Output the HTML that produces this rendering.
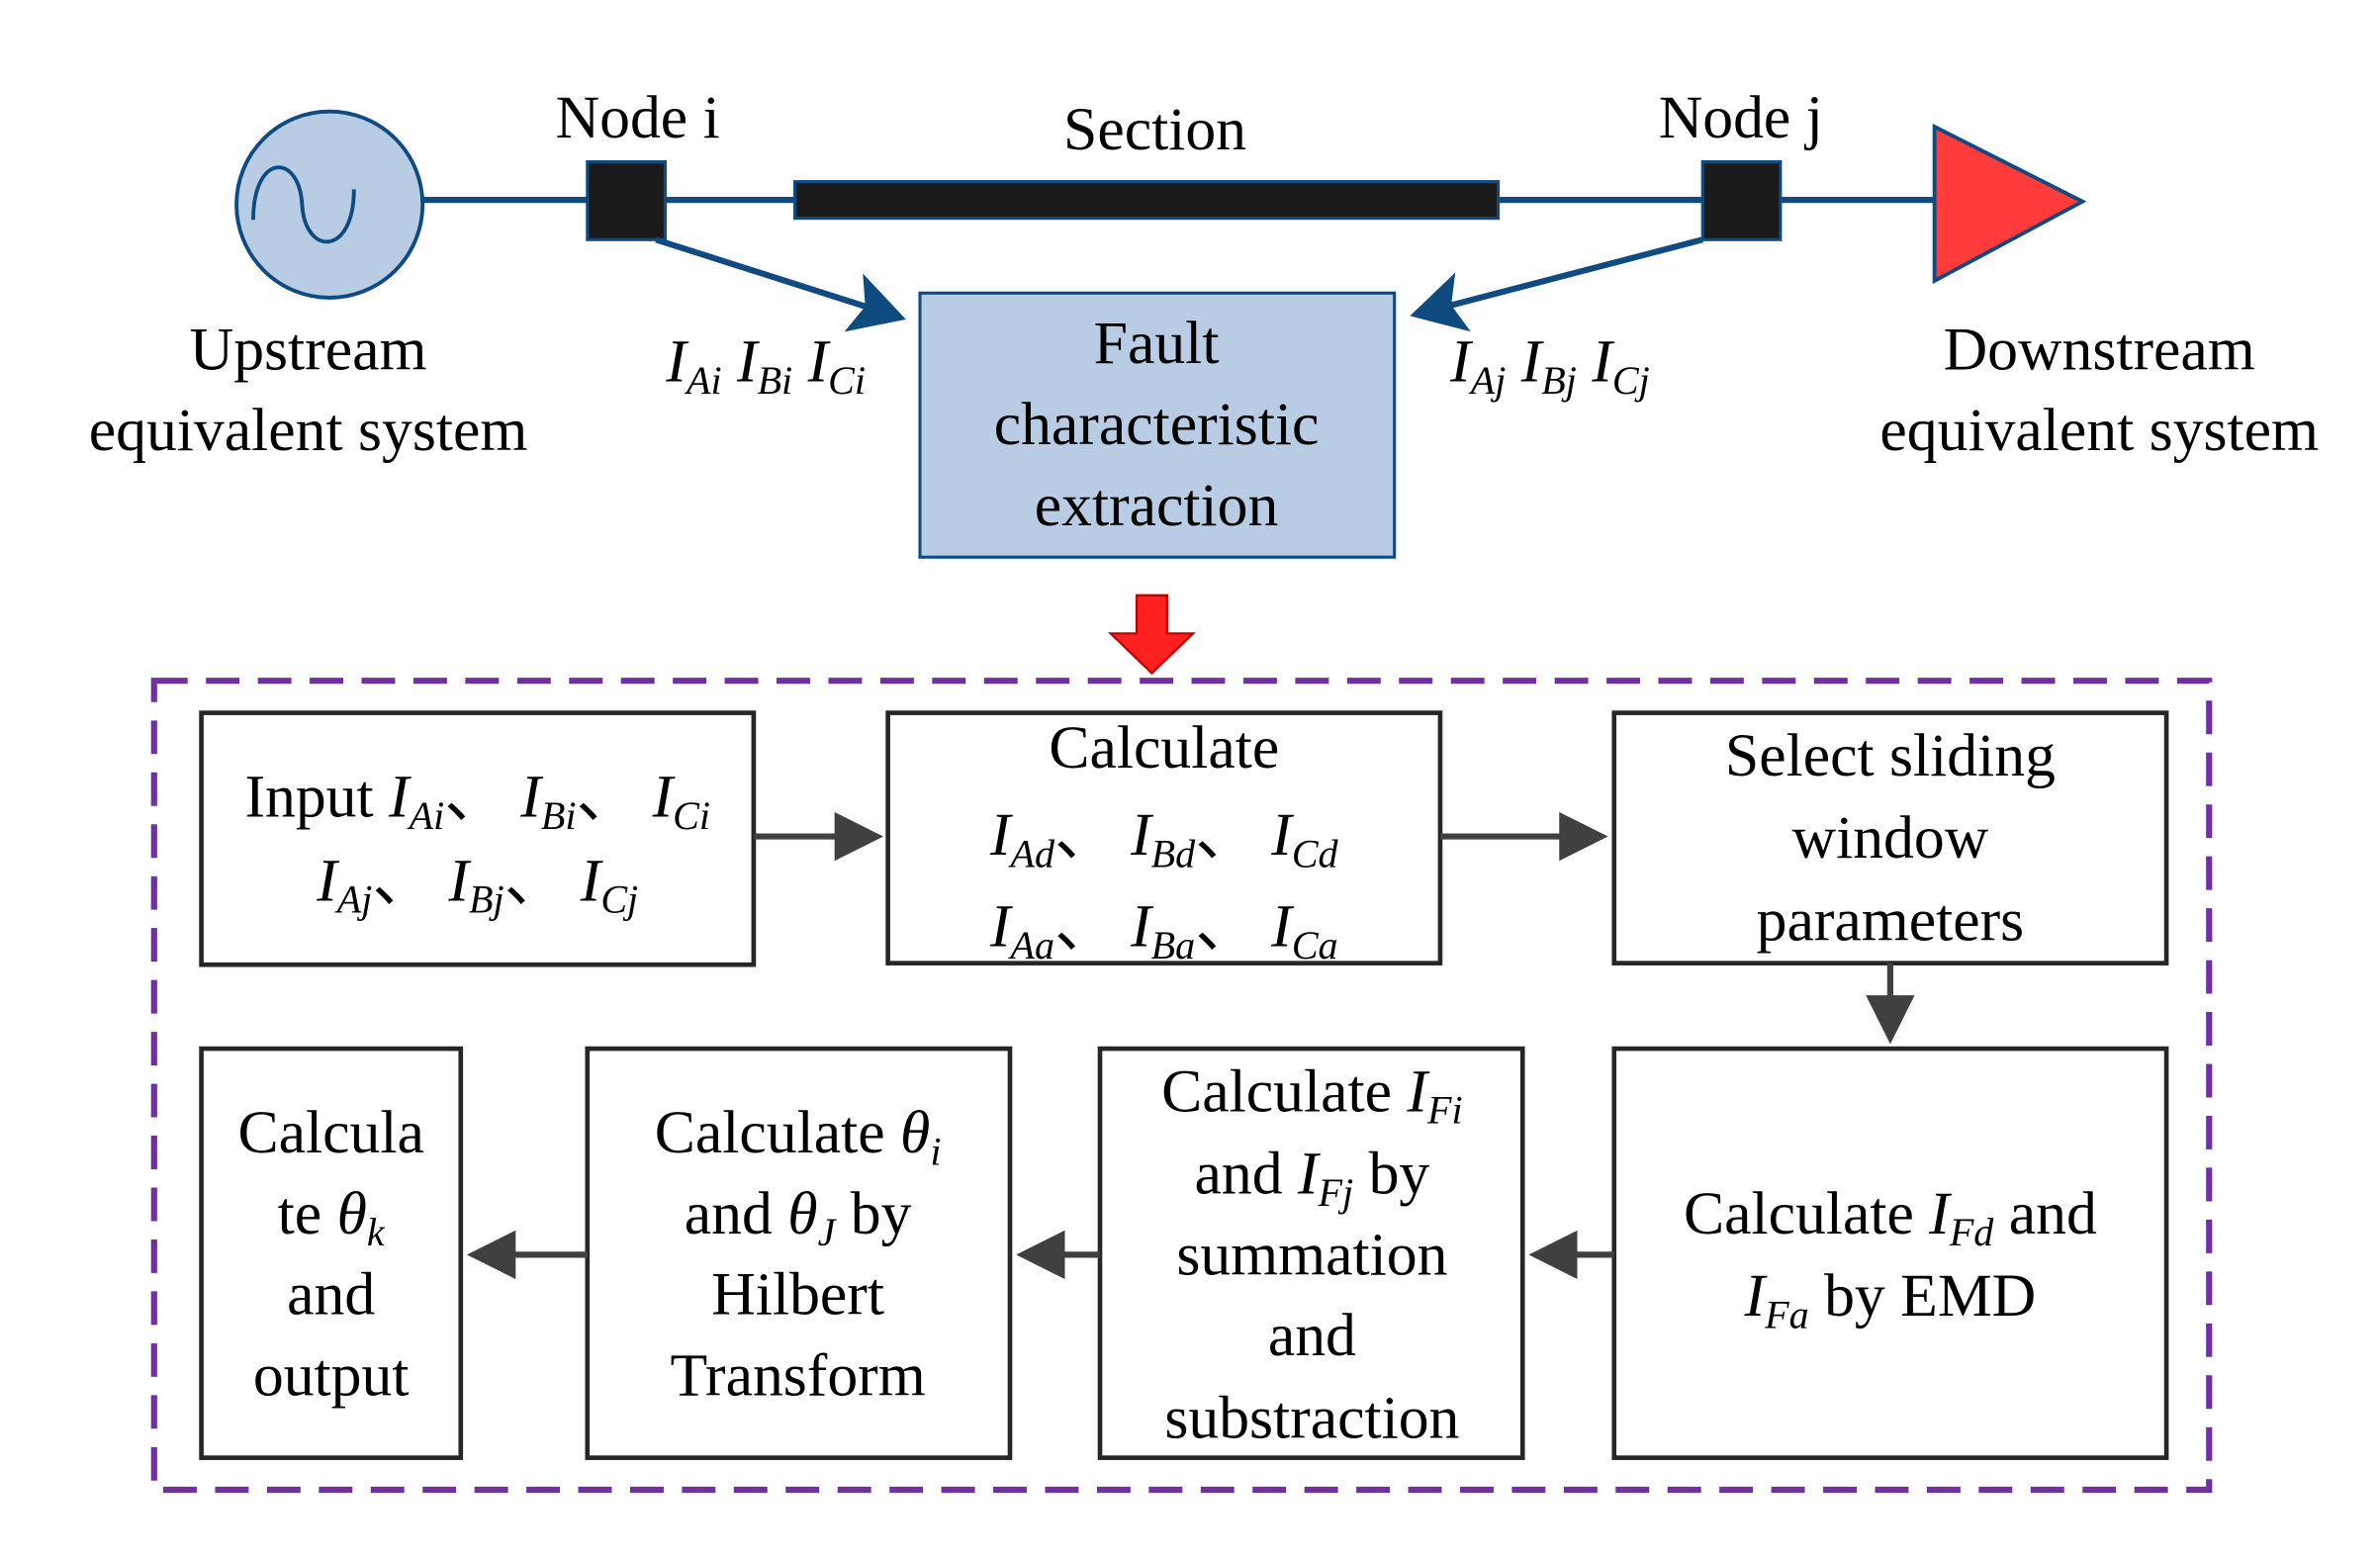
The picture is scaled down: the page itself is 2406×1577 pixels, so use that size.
<!DOCTYPE html>
<html><head><meta charset="utf-8"><style>html,body{margin:0;padding:0;background:#fff}svg{display:block}text{font-family:"Liberation Serif","Times New Roman",serif}</style></head><body>
<svg width="2406" height="1577" viewBox="0 0 1560 1022" preserveAspectRatio="none" xmlns="http://www.w3.org/2000/svg" font-family="'Liberation Serif', serif" font-size="40" fill="#000">
<defs>
<marker id="ab" markerWidth="10" markerHeight="10" refX="8" refY="5" orient="auto" markerUnits="strokeWidth"><path d="M0,0 L9,5 L0,10 L2,5 Z" fill="#0f4a80"/></marker>
<marker id="ag" markerWidth="8" markerHeight="8" refX="7" refY="4" orient="auto" markerUnits="strokeWidth"><path d="M0,0 L8,4 L0,8 Z" fill="#404040"/></marker>
</defs>
<line x1="277" y1="131" x2="1270" y2="131" stroke="#0f4a80" stroke-width="4"/>
<circle cx="216" cy="134" r="61" fill="#b8cde4" stroke="#0f4a80" stroke-width="2.5"/>
<path d="M166,144 C166,100 196,100 198,134 C200,168 232,168 232,124" fill="none" stroke="#0f4a80" stroke-width="2.5"/>
<rect x="385" y="106" width="51" height="51" fill="#1a1a1a" stroke="#0f4a80" stroke-width="2"/>
<rect x="521" y="119" width="461" height="24" fill="#1a1a1a" stroke="#0f4a80" stroke-width="2"/>
<rect x="1116" y="106" width="51" height="51" fill="#1a1a1a" stroke="#0f4a80" stroke-width="2"/>
<polygon points="1268,83 1365,132 1268,184" fill="#ff3b3b" stroke="#0f4a80" stroke-width="2.5"/>
<text x="418" y="90" text-anchor="middle">Node i</text>
<text x="757" y="98" text-anchor="middle">Section</text>
<text x="1141" y="90" text-anchor="middle">Node j</text>
<text x="202" y="242" text-anchor="middle">Upstream</text>
<text x="202" y="295" text-anchor="middle">equivalent system</text>
<text x="1376" y="242" text-anchor="middle">Downstream</text>
<text x="1376" y="295" text-anchor="middle">equivalent system</text>
<line x1="430" y1="157" x2="590" y2="208" stroke="#0f4a80" stroke-width="4" marker-end="url(#ab)"/>
<line x1="1116" y1="157" x2="928" y2="206" stroke="#0f4a80" stroke-width="4" marker-end="url(#ab)"/>
<text x="502" y="250" text-anchor="middle" font-style="italic">I<tspan font-size="26" dy="8">Ai</tspan><tspan dy="-8"> I</tspan><tspan font-size="26" dy="8">Bi</tspan><tspan dy="-8"> I</tspan><tspan font-size="26" dy="8">Ci</tspan></text>
<text x="1016" y="250" text-anchor="middle" font-style="italic">I<tspan font-size="26" dy="8">Aj</tspan><tspan dy="-8"> I</tspan><tspan font-size="26" dy="8">Bj</tspan><tspan dy="-8"> I</tspan><tspan font-size="26" dy="8">Cj</tspan></text>
<rect x="603" y="192" width="311" height="173" fill="#b8cde4" stroke="#0f4a80" stroke-width="2"/>
<text x="758" y="238" text-anchor="middle">Fault</text>
<text x="758" y="291" text-anchor="middle">characteristic</text>
<text x="758" y="344" text-anchor="middle">extraction</text>
<path d="M745,390 L765,390 L765,415 L782,415 L755,441 L728,415 L745,415 Z" fill="#ff2020" stroke="#c00000" stroke-width="1.5"/>
<rect x="101" y="446" width="1347" height="530" fill="none" stroke="#7030a0" stroke-width="4" stroke-dasharray="22,12"/>
<g fill="#fff" stroke="#262626" stroke-width="3">
<rect x="132" y="467" width="362" height="165"/>
<rect x="582" y="467" width="362" height="164"/>
<rect x="1058" y="467" width="362" height="164"/>
<rect x="132" y="687" width="170" height="268"/>
<rect x="385" y="687" width="277" height="268"/>
<rect x="721" y="687" width="277" height="268"/>
<rect x="1058" y="687" width="362" height="268"/>
</g>
<g stroke="#404040" stroke-width="4">
<line x1="494" y1="548" x2="575" y2="548" marker-end="url(#ag)"/>
<line x1="944" y1="548" x2="1050" y2="548" marker-end="url(#ag)"/>
<line x1="1239" y1="631" x2="1239" y2="680" marker-end="url(#ag)"/>
<line x1="1058" y1="822" x2="1006" y2="822" marker-end="url(#ag)"/>
<line x1="721" y1="822" x2="670" y2="822" marker-end="url(#ag)"/>
<line x1="385" y1="822" x2="310" y2="822" marker-end="url(#ag)"/>
</g>
<text x="313" y="535" text-anchor="middle">Input <tspan font-style="italic">I</tspan><tspan font-style="italic" font-size="26" dy="8">Ai</tspan><tspan dy="-8">、 </tspan><tspan font-style="italic">I</tspan><tspan font-style="italic" font-size="26" dy="8">Bi</tspan><tspan dy="-8">、 </tspan><tspan font-style="italic">I</tspan><tspan font-style="italic" font-size="26" dy="8">Ci</tspan></text>
<text x="313" y="590" text-anchor="middle"><tspan font-style="italic">I</tspan><tspan font-style="italic" font-size="26" dy="8">Aj</tspan><tspan dy="-8">、 </tspan><tspan font-style="italic">I</tspan><tspan font-style="italic" font-size="26" dy="8">Bj</tspan><tspan dy="-8">、 </tspan><tspan font-style="italic">I</tspan><tspan font-style="italic" font-size="26" dy="8">Cj</tspan></text>
<text x="763" y="503" text-anchor="middle">Calculate</text>
<text x="763" y="560" text-anchor="middle"><tspan font-style="italic">I</tspan><tspan font-style="italic" font-size="26" dy="8">Ad</tspan><tspan dy="-8">、 </tspan><tspan font-style="italic">I</tspan><tspan font-style="italic" font-size="26" dy="8">Bd</tspan><tspan dy="-8">、 </tspan><tspan font-style="italic">I</tspan><tspan font-style="italic" font-size="26" dy="8">Cd</tspan></text>
<text x="763" y="620" text-anchor="middle"><tspan font-style="italic">I</tspan><tspan font-style="italic" font-size="26" dy="8">Aa</tspan><tspan dy="-8">、 </tspan><tspan font-style="italic">I</tspan><tspan font-style="italic" font-size="26" dy="8">Ba</tspan><tspan dy="-8">、 </tspan><tspan font-style="italic">I</tspan><tspan font-style="italic" font-size="26" dy="8">Ca</tspan></text>
<text x="1239" y="508" text-anchor="middle">Select sliding</text>
<text x="1239" y="562" text-anchor="middle">window</text>
<text x="1239" y="616" text-anchor="middle">parameters</text>
<text x="1239" y="808" text-anchor="middle">Calculate <tspan font-style="italic">I</tspan><tspan font-style="italic" font-size="26" dy="8">Fd</tspan><tspan dy="-8"> and</tspan></text>
<text x="1239" y="862" text-anchor="middle"><tspan font-style="italic">I</tspan><tspan font-style="italic" font-size="26" dy="8">Fa</tspan><tspan dy="-8"> by EMD</tspan></text>
<text x="860" y="728" text-anchor="middle">Calculate <tspan font-style="italic">I</tspan><tspan font-style="italic" font-size="26" dy="8">Fi</tspan></text>
<text x="860" y="782" text-anchor="middle">and <tspan font-style="italic">I</tspan><tspan font-style="italic" font-size="26" dy="8">Fj</tspan><tspan dy="-8"> by</tspan></text>
<text x="860" y="835" text-anchor="middle">summation</text>
<text x="860" y="888" text-anchor="middle">and</text>
<text x="860" y="942" text-anchor="middle">substraction</text>
<text x="523" y="755" text-anchor="middle">Calculate <tspan font-style="italic">θ</tspan><tspan font-style="italic" font-size="26" dy="8">i</tspan></text>
<text x="523" y="808" text-anchor="middle">and <tspan font-style="italic">θ</tspan><tspan font-style="italic" font-size="26" dy="8">J</tspan><tspan dy="-8"> by</tspan></text>
<text x="523" y="861" text-anchor="middle">Hilbert</text>
<text x="523" y="914" text-anchor="middle">Transform</text>
<text x="217" y="755" text-anchor="middle">Calcula</text>
<text x="217" y="808" text-anchor="middle">te <tspan font-style="italic">θ</tspan><tspan font-style="italic" font-size="26" dy="8">k</tspan></text>
<text x="217" y="861" text-anchor="middle">and</text>
<text x="217" y="914" text-anchor="middle">output</text>
</svg>
</body></html>
